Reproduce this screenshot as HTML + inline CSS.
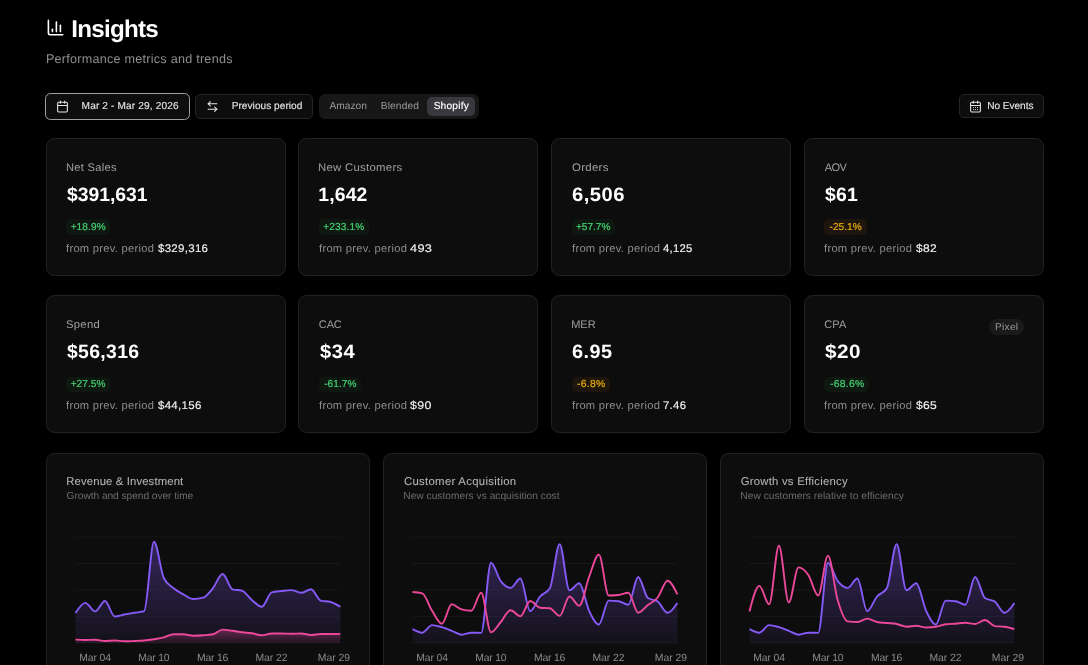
<!DOCTYPE html>
<html lang="en"><head><meta charset="utf-8"><title>Insights</title>
<style>
*{box-sizing:border-box;margin:0;padding:0}
html,body{width:1088px;height:665px;overflow:hidden;background:#000}
body{position:relative;font-family:"Liberation Sans",sans-serif;-webkit-font-smoothing:antialiased;text-rendering:geometricPrecision}
#app{position:absolute;left:0;top:0;width:1088px;height:665px;overflow:hidden;will-change:transform;background:#000}
.abs{position:absolute;display:block}
.t{position:absolute;white-space:pre;display:block}
.card{background:#0d0d0d;border:1px solid #222222;border-radius:8.5px}
.btn{background:#0d0d0d;border:1px solid #242424}
.bdg{position:absolute;border-radius:5px}
header,nav,section,article{display:block}
</style></head><body>
<div id="app">
<header>
<svg class="abs" style="left:45.7px;top:18.2px" width="19.2" height="19.2" viewBox="0 0 24 24" fill="none" stroke="#fff" stroke-width="2" stroke-linecap="round" stroke-linejoin="round"><path d="M3 3v16a2 2 0 0 0 2 2h16"/><path d="M18 17V9"/><path d="M13 17V5"/><path d="M8 17v-3"/></svg>
<span class="t" style="left:71.29px;top:18.01px;font-size:24.2px;line-height:24.2px;font-weight:bold;color:#fff;letter-spacing:-0.754px;">Insights</span>
<span class="t" style="left:45.90px;top:52.92px;font-size:12.6px;line-height:12.6px;font-weight:normal;color:#8e8e8e;letter-spacing:0.254px;">Performance metrics and trends</span>
</header>
<nav>
<div class="abs btn" style="left:45.4px;top:92.9px;width:144.6px;height:26.7px;border-color:#a0a0a0;border-radius:5.5px"></div>
<svg class="abs" style="left:55.95px;top:99.5px" width="13" height="13" viewBox="0 0 24 24" fill="none" stroke="#e6e6e6" stroke-width="2" stroke-linecap="round" stroke-linejoin="round"><path d="M8 2v4"/><path d="M16 2v4"/><rect width="18" height="18" x="3" y="4" rx="2"/><path d="M3 10h18"/></svg>
<span class="t" style="left:81.60px;top:102.01px;font-size:10.1px;line-height:10.1px;font-weight:normal;color:#e6e6e6;letter-spacing:0.143px;-webkit-text-stroke:0.12px #e6e6e6;">Mar 2 - Mar 29, 2026</span>
<div class="abs btn" style="left:195.4px;top:94.2px;width:117.4px;height:24.4px;border-radius:5px"></div>
<svg class="abs" style="left:205.65px;top:99.78px" width="13" height="13" viewBox="0 0 24 24" fill="none" stroke="#e6e6e6" stroke-width="2" stroke-linecap="round" stroke-linejoin="round"><path d="M8 3 4 7l4 4"/><path d="M4 7h16"/><path d="m16 21 4-4-4-4"/><path d="M20 17H4"/></svg>
<span class="t" style="left:231.70px;top:102.01px;font-size:10.1px;line-height:10.1px;font-weight:normal;color:#e6e6e6;letter-spacing:0.039px;-webkit-text-stroke:0.12px #e6e6e6;">Previous period</span>
<div class="abs" style="left:319.1px;top:94.3px;width:159.7px;height:24.3px;border-radius:6px;background:#171717"></div>
<span class="t" style="left:329.50px;top:102.01px;font-size:10.2px;line-height:10.2px;font-weight:normal;color:#9a9a9a;letter-spacing:0.001px;">Amazon</span>
<span class="t" style="left:380.70px;top:102.01px;font-size:10.2px;line-height:10.2px;font-weight:normal;color:#9a9a9a;letter-spacing:0.148px;">Blended</span>
<div class="abs" style="left:427px;top:97.1px;width:48px;height:18.7px;border-radius:5px;background:#38383f"></div>
<span class="t" style="left:433.65px;top:102.01px;font-size:10.2px;line-height:10.2px;font-weight:normal;color:#fff;letter-spacing:0.188px;-webkit-text-stroke:0.15px #fff;">Shopify</span>
<div class="abs btn" style="left:959.3px;top:94.3px;width:84.5px;height:24.1px;border-radius:5px"></div>
<svg class="abs" style="left:969.05px;top:99.92px;overflow:visible" width="13" height="13" viewBox="0 0 24 24" fill="none" stroke="#e6e6e6" stroke-width="2" stroke-linecap="round" stroke-linejoin="round"><path d="M8 2v4"/><path d="M16 2v4"/><rect width="18" height="18" x="3" y="4" rx="2"/><path d="M3 10h18"/></svg>
<svg class="abs" style="left:969px;top:100px" width="14" height="14" viewBox="969 100 14 14" fill="#e6e6e6"><circle cx="973.50" cy="107.50" r="0.58"/><circle cx="975.50" cy="107.50" r="0.58"/><circle cx="977.50" cy="107.50" r="0.58"/><circle cx="973.50" cy="109.60" r="0.58"/><circle cx="975.50" cy="109.60" r="0.58"/><circle cx="977.50" cy="109.60" r="0.58"/></svg>
<span class="t" style="left:987.20px;top:102.01px;font-size:10.1px;line-height:10.1px;font-weight:normal;color:#e6e6e6;letter-spacing:-0.031px;-webkit-text-stroke:0.12px #e6e6e6;">No Events</span>
</nav>
<section>
<article>
<div class="abs card" style="left:46px;top:138px;width:240px;height:138px"></div>
<span class="t" style="left:65.79px;top:162.91px;font-size:11px;line-height:11px;font-weight:normal;color:#a1a1a1;letter-spacing:0.275px;transform:scaleX(1.0115);transform-origin:0 0;">Net Sales</span>
<span class="t" style="left:66.90px;top:185.71px;font-size:19.4px;line-height:19.4px;font-weight:bold;color:#fff;letter-spacing:-0.019px;">$391,631</span>
<div class="bdg" style="left:66.2px;top:219.4px;width:43.5px;height:15.4px;background:#0e1811"></div>
<span class="t" style="left:70.65px;top:223.10px;font-size:10.1px;line-height:10.1px;font-weight:normal;color:#44cf71;letter-spacing:0.089px;-webkit-text-stroke:0.22px #44cf71;">+18.9%</span>
<span class="t" style="left:66.35px;top:243.71px;font-size:11px;line-height:11px;font-weight:normal;color:#8e8e8e;letter-spacing:0.275px;transform:scaleX(1.0150);transform-origin:0 0;">from prev. period</span>
<span class="t" style="left:157.70px;top:243.71px;font-size:11px;line-height:11px;font-weight:normal;color:#f2f2f2;letter-spacing:0.275px;-webkit-text-stroke:0.14px #f2f2f2;transform:scaleX(1.0458);transform-origin:0 0;">$329,316</span>
</article>
<article>
<div class="abs card" style="left:298px;top:138px;width:240px;height:138px"></div>
<span class="t" style="left:318.44px;top:162.91px;font-size:11px;line-height:11px;font-weight:normal;color:#a1a1a1;letter-spacing:0.275px;transform:scaleX(1.0329);transform-origin:0 0;">New Customers</span>
<span class="t" style="left:318.36px;top:185.71px;font-size:19.4px;line-height:19.4px;font-weight:bold;color:#fff;letter-spacing:0.120px;">1,642</span>
<div class="bdg" style="left:318.9px;top:219.4px;width:50.0px;height:15.4px;background:#0e1811"></div>
<span class="t" style="left:323.32px;top:223.10px;font-size:10.1px;line-height:10.1px;font-weight:normal;color:#44cf71;letter-spacing:0.110px;-webkit-text-stroke:0.22px #44cf71;">+233.1%</span>
<span class="t" style="left:319.02px;top:243.71px;font-size:11px;line-height:11px;font-weight:normal;color:#8e8e8e;letter-spacing:0.275px;transform:scaleX(1.0150);transform-origin:0 0;">from prev. period</span>
<span class="t" style="left:409.91px;top:243.71px;font-size:11px;line-height:11px;font-weight:normal;color:#f2f2f2;letter-spacing:0.275px;-webkit-text-stroke:0.14px #f2f2f2;transform:scaleX(1.1603);transform-origin:0 0;">493</span>
</article>
<article>
<div class="abs card" style="left:551px;top:138px;width:240px;height:138px"></div>
<span class="t" style="left:571.52px;top:162.91px;font-size:11px;line-height:11px;font-weight:normal;color:#a1a1a1;letter-spacing:0.275px;transform:scaleX(1.0386);transform-origin:0 0;">Orders</span>
<span class="t" style="left:571.61px;top:185.71px;font-size:19.4px;line-height:19.4px;font-weight:bold;color:#fff;letter-spacing:0.485px;transform:scaleX(1.0417);transform-origin:0 0;">6,506</span>
<div class="bdg" style="left:571.5px;top:219.4px;width:43.4px;height:15.4px;background:#0e1811"></div>
<span class="t" style="left:575.99px;top:223.10px;font-size:10.1px;line-height:10.1px;font-weight:normal;color:#44cf71;letter-spacing:-0.019px;-webkit-text-stroke:0.22px #44cf71;">+57.7%</span>
<span class="t" style="left:571.69px;top:243.71px;font-size:11px;line-height:11px;font-weight:normal;color:#8e8e8e;letter-spacing:0.275px;transform:scaleX(1.0150);transform-origin:0 0;">from prev. period</span>
<span class="t" style="left:662.64px;top:243.71px;font-size:11px;line-height:11px;font-weight:normal;color:#f2f2f2;letter-spacing:0.275px;-webkit-text-stroke:0.14px #f2f2f2;transform:scaleX(1.0229);transform-origin:0 0;">4,125</span>
</article>
<article>
<div class="abs card" style="left:804px;top:138px;width:240px;height:138px"></div>
<span class="t" style="left:824.71px;top:162.91px;font-size:11px;line-height:11px;font-weight:normal;color:#a1a1a1;letter-spacing:-0.502px;">AOV</span>
<span class="t" style="left:824.91px;top:185.71px;font-size:19.4px;line-height:19.4px;font-weight:bold;color:#fff;letter-spacing:0.253px;">$61</span>
<div class="bdg" style="left:824.2px;top:219.4px;width:42.7px;height:15.4px;background:#1e150c"></div>
<span class="t" style="left:829.51px;top:223.10px;font-size:10.1px;line-height:10.1px;font-weight:normal;color:#e8ad0c;letter-spacing:0.024px;-webkit-text-stroke:0.22px #e8ad0c;">-25.1%</span>
<span class="t" style="left:824.36px;top:243.71px;font-size:11px;line-height:11px;font-weight:normal;color:#8e8e8e;letter-spacing:0.275px;transform:scaleX(1.0150);transform-origin:0 0;">from prev. period</span>
<span class="t" style="left:916.29px;top:243.71px;font-size:11px;line-height:11px;font-weight:normal;color:#f2f2f2;letter-spacing:0.275px;-webkit-text-stroke:0.14px #f2f2f2;transform:scaleX(1.0883);transform-origin:0 0;">$82</span>
</article>
<article>
<div class="abs card" style="left:46px;top:295px;width:240px;height:138px"></div>
<span class="t" style="left:66.24px;top:320.11px;font-size:11px;line-height:11px;font-weight:normal;color:#a1a1a1;letter-spacing:0.275px;transform:scaleX(1.0255);transform-origin:0 0;">Spend</span>
<span class="t" style="left:66.90px;top:342.91px;font-size:19.4px;line-height:19.4px;font-weight:bold;color:#fff;letter-spacing:0.343px;">$56,316</span>
<div class="bdg" style="left:66.2px;top:376.6px;width:43.7px;height:15.4px;background:#0e1811"></div>
<span class="t" style="left:70.65px;top:380.30px;font-size:10.1px;line-height:10.1px;font-weight:normal;color:#44cf71;letter-spacing:0.049px;-webkit-text-stroke:0.22px #44cf71;">+27.5%</span>
<span class="t" style="left:66.35px;top:400.91px;font-size:11px;line-height:11px;font-weight:normal;color:#8e8e8e;letter-spacing:0.275px;transform:scaleX(1.0150);transform-origin:0 0;">from prev. period</span>
<span class="t" style="left:157.80px;top:400.91px;font-size:11px;line-height:11px;font-weight:normal;color:#f2f2f2;letter-spacing:0.275px;-webkit-text-stroke:0.14px #f2f2f2;transform:scaleX(1.0454);transform-origin:0 0;">$44,156</span>
</article>
<article>
<div class="abs card" style="left:298px;top:295px;width:240px;height:138px"></div>
<span class="t" style="left:318.82px;top:320.11px;font-size:11px;line-height:11px;font-weight:normal;color:#a1a1a1;letter-spacing:-0.125px;">CAC</span>
<span class="t" style="left:319.57px;top:342.91px;font-size:19.4px;line-height:19.4px;font-weight:bold;color:#fff;letter-spacing:0.485px;transform:scaleX(1.0379);transform-origin:0 0;">$34</span>
<div class="bdg" style="left:318.9px;top:376.6px;width:42.0px;height:15.4px;background:#0e1811"></div>
<span class="t" style="left:324.17px;top:380.30px;font-size:10.1px;line-height:10.1px;font-weight:normal;color:#44cf71;letter-spacing:0.052px;-webkit-text-stroke:0.22px #44cf71;">-61.7%</span>
<span class="t" style="left:319.02px;top:400.91px;font-size:11px;line-height:11px;font-weight:normal;color:#8e8e8e;letter-spacing:0.275px;transform:scaleX(1.0150);transform-origin:0 0;">from prev. period</span>
<span class="t" style="left:410.49px;top:400.91px;font-size:11px;line-height:11px;font-weight:normal;color:#f2f2f2;letter-spacing:0.275px;-webkit-text-stroke:0.14px #f2f2f2;transform:scaleX(1.1259);transform-origin:0 0;">$90</span>
</article>
<article>
<div class="abs card" style="left:551px;top:295px;width:240px;height:138px"></div>
<span class="t" style="left:571.14px;top:320.11px;font-size:11px;line-height:11px;font-weight:normal;color:#a1a1a1;letter-spacing:0.005px;">MER</span>
<span class="t" style="left:571.62px;top:342.91px;font-size:19.4px;line-height:19.4px;font-weight:bold;color:#fff;letter-spacing:0.485px;transform:scaleX(1.0246);transform-origin:0 0;">6.95</span>
<div class="bdg" style="left:571.5px;top:376.6px;width:38.5px;height:15.4px;background:#1e150c"></div>
<span class="t" style="left:576.83px;top:380.30px;font-size:10.1px;line-height:10.1px;font-weight:normal;color:#e8ad0c;letter-spacing:0.253px;-webkit-text-stroke:0.22px #e8ad0c;transform:scaleX(1.0299);transform-origin:0 0;">-6.8%</span>
<span class="t" style="left:571.69px;top:400.91px;font-size:11px;line-height:11px;font-weight:normal;color:#8e8e8e;letter-spacing:0.275px;transform:scaleX(1.0150);transform-origin:0 0;">from prev. period</span>
<span class="t" style="left:662.83px;top:400.91px;font-size:11px;line-height:11px;font-weight:normal;color:#f2f2f2;letter-spacing:0.275px;-webkit-text-stroke:0.14px #f2f2f2;transform:scaleX(1.0322);transform-origin:0 0;">7.46</span>
</article>
<article>
<div class="abs card" style="left:804px;top:295px;width:240px;height:138px"></div>
<span class="t" style="left:824.16px;top:320.11px;font-size:11px;line-height:11px;font-weight:normal;color:#a1a1a1;letter-spacing:0.213px;">CPA</span>
<span class="t" style="left:824.91px;top:342.91px;font-size:19.4px;line-height:19.4px;font-weight:bold;color:#fff;letter-spacing:0.485px;transform:scaleX(1.0688);transform-origin:0 0;">$20</span>
<div class="bdg" style="left:824.2px;top:376.6px;width:44.7px;height:15.4px;background:#0e1811"></div>
<span class="t" style="left:829.50px;top:380.30px;font-size:10.1px;line-height:10.1px;font-weight:normal;color:#44cf71;letter-spacing:0.253px;-webkit-text-stroke:0.22px #44cf71;transform:scaleX(1.0325);transform-origin:0 0;">-68.6%</span>
<span class="t" style="left:824.36px;top:400.91px;font-size:11px;line-height:11px;font-weight:normal;color:#8e8e8e;letter-spacing:0.275px;transform:scaleX(1.0150);transform-origin:0 0;">from prev. period</span>
<span class="t" style="left:916.29px;top:400.91px;font-size:11px;line-height:11px;font-weight:normal;color:#f2f2f2;letter-spacing:0.275px;-webkit-text-stroke:0.14px #f2f2f2;transform:scaleX(1.0987);transform-origin:0 0;">$65</span>
</article>
</section>
<section>
<article>
<div class="abs card" style="left:46px;top:453px;width:324px;height:240px"></div>
<span class="t" style="left:66.30px;top:477.12px;font-size:11.3px;line-height:11.3px;font-weight:normal;color:#b6b6b6;letter-spacing:0.138px;-webkit-text-stroke:0.07px #b6b6b6;">Revenue &amp; Investment</span>
<span class="t" style="left:66.60px;top:492.10px;font-size:10.2px;line-height:10.2px;font-weight:normal;color:#6b6b6b;letter-spacing:-0.052px;">Growth and spend over time</span>
<span class="t" style="left:79.15px;top:654.01px;font-size:10.4px;line-height:10.4px;font-weight:normal;color:#8a8a8a;letter-spacing:-0.087px;">Mar 04</span>
<span class="t" style="left:138.35px;top:654.01px;font-size:10.4px;line-height:10.4px;font-weight:normal;color:#8a8a8a;letter-spacing:-0.227px;">Mar 10</span>
<span class="t" style="left:197.05px;top:654.01px;font-size:10.4px;line-height:10.4px;font-weight:normal;color:#8a8a8a;letter-spacing:-0.217px;">Mar 16</span>
<span class="t" style="left:255.45px;top:654.01px;font-size:10.4px;line-height:10.4px;font-weight:normal;color:#8a8a8a;letter-spacing:-0.047px;">Mar 22</span>
<span class="t" style="left:317.75px;top:654.01px;font-size:10.4px;line-height:10.4px;font-weight:normal;color:#8a8a8a;letter-spacing:-0.027px;">Mar 29</span>
</article>
<article>
<div class="abs card" style="left:383px;top:453px;width:324px;height:240px"></div>
<span class="t" style="left:403.65px;top:477.12px;font-size:11.3px;line-height:11.3px;font-weight:normal;color:#b6b6b6;letter-spacing:0.283px;-webkit-text-stroke:0.07px #b6b6b6;transform:scaleX(1.0063);transform-origin:0 0;">Customer Acquisition</span>
<span class="t" style="left:403.30px;top:492.10px;font-size:10.2px;line-height:10.2px;font-weight:normal;color:#6b6b6b;letter-spacing:0.017px;">New customers vs acquisition cost</span>
<span class="t" style="left:416.15px;top:654.01px;font-size:10.4px;line-height:10.4px;font-weight:normal;color:#8a8a8a;letter-spacing:-0.087px;">Mar 04</span>
<span class="t" style="left:475.35px;top:654.01px;font-size:10.4px;line-height:10.4px;font-weight:normal;color:#8a8a8a;letter-spacing:-0.227px;">Mar 10</span>
<span class="t" style="left:534.05px;top:654.01px;font-size:10.4px;line-height:10.4px;font-weight:normal;color:#8a8a8a;letter-spacing:-0.217px;">Mar 16</span>
<span class="t" style="left:592.45px;top:654.01px;font-size:10.4px;line-height:10.4px;font-weight:normal;color:#8a8a8a;letter-spacing:-0.047px;">Mar 22</span>
<span class="t" style="left:654.75px;top:654.01px;font-size:10.4px;line-height:10.4px;font-weight:normal;color:#8a8a8a;letter-spacing:-0.027px;">Mar 29</span>
</article>
<article>
<div class="abs card" style="left:720px;top:453px;width:324px;height:240px"></div>
<span class="t" style="left:740.65px;top:477.12px;font-size:11.3px;line-height:11.3px;font-weight:normal;color:#b6b6b6;letter-spacing:0.253px;-webkit-text-stroke:0.07px #b6b6b6;">Growth vs Efficiency</span>
<span class="t" style="left:740.30px;top:492.10px;font-size:10.2px;line-height:10.2px;font-weight:normal;color:#6b6b6b;letter-spacing:0.037px;">New customers relative to efficiency</span>
<span class="t" style="left:753.15px;top:654.01px;font-size:10.4px;line-height:10.4px;font-weight:normal;color:#8a8a8a;letter-spacing:-0.087px;">Mar 04</span>
<span class="t" style="left:812.35px;top:654.01px;font-size:10.4px;line-height:10.4px;font-weight:normal;color:#8a8a8a;letter-spacing:-0.227px;">Mar 10</span>
<span class="t" style="left:871.05px;top:654.01px;font-size:10.4px;line-height:10.4px;font-weight:normal;color:#8a8a8a;letter-spacing:-0.217px;">Mar 16</span>
<span class="t" style="left:929.45px;top:654.01px;font-size:10.4px;line-height:10.4px;font-weight:normal;color:#8a8a8a;letter-spacing:-0.047px;">Mar 22</span>
<span class="t" style="left:991.75px;top:654.01px;font-size:10.4px;line-height:10.4px;font-weight:normal;color:#8a8a8a;letter-spacing:-0.027px;">Mar 29</span>
</article>
</section>
<svg class="abs" style="left:0;top:440px" width="1088" height="225" viewBox="0 440 1088 225">
<defs><linearGradient id="gp" x1="0" y1="0" x2="0" y2="1"><stop offset="0" stop-color="#855af6" stop-opacity="0.33"/><stop offset="1" stop-color="#855af6" stop-opacity="0.06"/></linearGradient><linearGradient id="gk" x1="0" y1="0" x2="0" y2="1"><stop offset="0" stop-color="#ec4899" stop-opacity="0.35"/><stop offset="1" stop-color="#ec4899" stop-opacity="0.06"/></linearGradient></defs>
<line x1="75.1" x2="340.4" y1="537.0" y2="537.0" stroke="#171717" stroke-width="1"/>
<line x1="75.1" x2="340.4" y1="563.5" y2="563.5" stroke="#171717" stroke-width="1"/>
<line x1="75.1" x2="340.4" y1="589.9" y2="589.9" stroke="#171717" stroke-width="1"/>
<line x1="75.1" x2="340.4" y1="616.4" y2="616.4" stroke="#171717" stroke-width="1"/>
<line x1="75.1" x2="340.4" y1="642.9" y2="642.9" stroke="#171717" stroke-width="1"/>
<path d="M75.50,613.00C78.77,607.95,82.04,602.90,85.31,602.90C88.58,602.90,91.85,611.40,95.12,611.40C98.39,611.40,101.66,601.00,104.93,601.00C108.20,601.00,111.47,616.50,114.74,616.50C118.01,616.50,121.28,615.12,124.55,614.50C127.82,613.88,131.09,613.35,134.36,612.80C137.63,612.25,140.90,612.27,144.17,611.20C147.44,610.13,150.71,541.70,153.98,541.70C157.25,541.70,160.52,571.13,163.79,578.00C167.06,584.87,170.33,585.57,173.60,588.30C176.87,591.03,180.14,592.62,183.41,594.40C186.68,596.18,189.95,599.00,193.22,599.00C196.49,599.00,199.76,598.57,203.03,597.70C206.30,596.83,209.57,592.25,212.84,588.30C216.11,584.35,219.38,574.00,222.65,574.00C225.92,574.00,229.19,588.30,232.46,589.30C235.73,590.30,239.00,589.80,242.27,590.80C245.54,591.80,248.81,597.55,252.08,600.20C255.35,602.85,258.62,606.70,261.89,606.70C265.16,606.70,268.43,593.33,271.70,592.40C274.97,591.47,278.24,591.38,281.51,591.00C284.78,590.62,288.05,590.10,291.32,590.10C294.59,590.10,297.86,592.80,301.13,592.80C304.40,592.80,307.67,589.30,310.94,589.30C314.21,589.30,317.48,599.67,320.75,600.60C324.02,601.53,327.29,601.07,330.56,602.00C333.83,602.93,337.10,604.82,340.37,606.70L340.37,643.00L75.50,643.00Z" fill="url(#gp)"/>
<path d="M75.50,613.00C78.77,607.95,82.04,602.90,85.31,602.90C88.58,602.90,91.85,611.40,95.12,611.40C98.39,611.40,101.66,601.00,104.93,601.00C108.20,601.00,111.47,616.50,114.74,616.50C118.01,616.50,121.28,615.12,124.55,614.50C127.82,613.88,131.09,613.35,134.36,612.80C137.63,612.25,140.90,612.27,144.17,611.20C147.44,610.13,150.71,541.70,153.98,541.70C157.25,541.70,160.52,571.13,163.79,578.00C167.06,584.87,170.33,585.57,173.60,588.30C176.87,591.03,180.14,592.62,183.41,594.40C186.68,596.18,189.95,599.00,193.22,599.00C196.49,599.00,199.76,598.57,203.03,597.70C206.30,596.83,209.57,592.25,212.84,588.30C216.11,584.35,219.38,574.00,222.65,574.00C225.92,574.00,229.19,588.30,232.46,589.30C235.73,590.30,239.00,589.80,242.27,590.80C245.54,591.80,248.81,597.55,252.08,600.20C255.35,602.85,258.62,606.70,261.89,606.70C265.16,606.70,268.43,593.33,271.70,592.40C274.97,591.47,278.24,591.38,281.51,591.00C284.78,590.62,288.05,590.10,291.32,590.10C294.59,590.10,297.86,592.80,301.13,592.80C304.40,592.80,307.67,589.30,310.94,589.30C314.21,589.30,317.48,599.67,320.75,600.60C324.02,601.53,327.29,601.07,330.56,602.00C333.83,602.93,337.10,604.82,340.37,606.70" fill="none" stroke="#855af6" stroke-width="1.9" stroke-linejoin="round"/>
<path d="M75.50,639.60C78.77,639.80,82.04,640.00,85.31,640.00C88.58,640.00,91.85,639.80,95.12,639.80C98.39,639.80,101.66,641.00,104.93,641.00C108.20,641.00,111.47,640.50,114.74,640.50C118.01,640.50,121.28,641.30,124.55,641.30C127.82,641.30,131.09,641.13,134.36,641.00C137.63,640.87,140.90,640.80,144.17,640.50C147.44,640.20,150.71,639.72,153.98,639.20C157.25,638.68,160.52,638.22,163.79,637.40C167.06,636.58,170.33,634.30,173.60,634.30C176.87,634.30,180.14,634.30,183.41,634.30C186.68,634.30,189.95,635.80,193.22,635.80C196.49,635.80,199.76,635.55,203.03,635.30C206.30,635.05,209.57,634.97,212.84,634.30C216.11,633.63,219.38,629.60,222.65,629.60C225.92,629.60,229.19,630.35,232.46,630.80C235.73,631.25,239.00,631.88,242.27,632.30C245.54,632.72,248.81,632.80,252.08,633.30C255.35,633.80,258.62,635.30,261.89,635.30C265.16,635.30,268.43,633.50,271.70,633.50C274.97,633.50,278.24,633.50,281.51,633.50C284.78,633.50,288.05,633.70,291.32,633.70C294.59,633.70,297.86,633.50,301.13,633.50C304.40,633.50,307.67,635.00,310.94,635.00C314.21,635.00,317.48,634.00,320.75,634.00C324.02,634.00,327.29,634.00,330.56,634.00C333.83,634.00,337.10,633.95,340.37,633.90L340.37,643.00L75.50,643.00Z" fill="url(#gk)"/>
<path d="M75.50,639.60C78.77,639.80,82.04,640.00,85.31,640.00C88.58,640.00,91.85,639.80,95.12,639.80C98.39,639.80,101.66,641.00,104.93,641.00C108.20,641.00,111.47,640.50,114.74,640.50C118.01,640.50,121.28,641.30,124.55,641.30C127.82,641.30,131.09,641.13,134.36,641.00C137.63,640.87,140.90,640.80,144.17,640.50C147.44,640.20,150.71,639.72,153.98,639.20C157.25,638.68,160.52,638.22,163.79,637.40C167.06,636.58,170.33,634.30,173.60,634.30C176.87,634.30,180.14,634.30,183.41,634.30C186.68,634.30,189.95,635.80,193.22,635.80C196.49,635.80,199.76,635.55,203.03,635.30C206.30,635.05,209.57,634.97,212.84,634.30C216.11,633.63,219.38,629.60,222.65,629.60C225.92,629.60,229.19,630.35,232.46,630.80C235.73,631.25,239.00,631.88,242.27,632.30C245.54,632.72,248.81,632.80,252.08,633.30C255.35,633.80,258.62,635.30,261.89,635.30C265.16,635.30,268.43,633.50,271.70,633.50C274.97,633.50,278.24,633.50,281.51,633.50C284.78,633.50,288.05,633.70,291.32,633.70C294.59,633.70,297.86,633.50,301.13,633.50C304.40,633.50,307.67,635.00,310.94,635.00C314.21,635.00,317.48,634.00,320.75,634.00C324.02,634.00,327.29,634.00,330.56,634.00C333.83,634.00,337.10,633.95,340.37,633.90" fill="none" stroke="#ec4899" stroke-width="1.9" stroke-linejoin="round"/>
<line x1="412.1" x2="677.4" y1="537.0" y2="537.0" stroke="#171717" stroke-width="1"/>
<line x1="412.1" x2="677.4" y1="563.5" y2="563.5" stroke="#171717" stroke-width="1"/>
<line x1="412.1" x2="677.4" y1="589.9" y2="589.9" stroke="#171717" stroke-width="1"/>
<line x1="412.1" x2="677.4" y1="616.4" y2="616.4" stroke="#171717" stroke-width="1"/>
<line x1="412.1" x2="677.4" y1="642.9" y2="642.9" stroke="#171717" stroke-width="1"/>
<path d="M412.50,629.20C415.77,630.95,419.04,632.70,422.31,632.70C425.58,632.70,428.85,625.10,432.12,625.10C435.39,625.10,438.66,626.25,441.93,627.20C445.20,628.15,448.47,629.55,451.74,630.80C455.01,632.05,458.28,634.70,461.55,634.70C464.82,634.70,468.09,632.70,471.36,632.70C474.63,632.70,477.90,632.90,481.17,632.90C484.44,632.90,487.71,562.70,490.98,562.70C494.25,562.70,497.52,576.90,500.79,581.10C504.06,585.30,507.33,587.90,510.60,587.90C513.87,587.90,517.14,578.50,520.41,578.50C523.68,578.50,526.95,611.20,530.22,611.20C533.49,611.20,536.76,600.32,540.03,596.50C543.30,592.68,546.57,593.77,549.84,588.30C553.11,582.83,556.38,544.30,559.65,544.30C562.92,544.30,566.19,590.30,569.46,590.30C572.73,590.30,576.00,583.20,579.27,583.20C582.54,583.20,585.81,603.92,589.08,610.80C592.35,617.68,595.62,624.50,598.89,624.50C602.16,624.50,605.43,600.60,608.70,600.60C611.97,600.60,615.24,600.80,618.51,601.20C621.78,601.60,625.05,604.70,628.32,604.70C631.59,604.70,634.86,577.00,638.13,577.00C641.40,577.00,644.67,595.77,647.94,598.10C651.21,600.43,654.48,599.27,657.75,601.60C661.02,603.93,664.29,612.80,667.56,612.80C670.83,612.80,674.10,607.90,677.37,603.00L677.37,643.00L412.50,643.00Z" fill="url(#gp)"/>
<path d="M412.50,629.20C415.77,630.95,419.04,632.70,422.31,632.70C425.58,632.70,428.85,625.10,432.12,625.10C435.39,625.10,438.66,626.25,441.93,627.20C445.20,628.15,448.47,629.55,451.74,630.80C455.01,632.05,458.28,634.70,461.55,634.70C464.82,634.70,468.09,632.70,471.36,632.70C474.63,632.70,477.90,632.90,481.17,632.90C484.44,632.90,487.71,562.70,490.98,562.70C494.25,562.70,497.52,576.90,500.79,581.10C504.06,585.30,507.33,587.90,510.60,587.90C513.87,587.90,517.14,578.50,520.41,578.50C523.68,578.50,526.95,611.20,530.22,611.20C533.49,611.20,536.76,600.32,540.03,596.50C543.30,592.68,546.57,593.77,549.84,588.30C553.11,582.83,556.38,544.30,559.65,544.30C562.92,544.30,566.19,590.30,569.46,590.30C572.73,590.30,576.00,583.20,579.27,583.20C582.54,583.20,585.81,603.92,589.08,610.80C592.35,617.68,595.62,624.50,598.89,624.50C602.16,624.50,605.43,600.60,608.70,600.60C611.97,600.60,615.24,600.80,618.51,601.20C621.78,601.60,625.05,604.70,628.32,604.70C631.59,604.70,634.86,577.00,638.13,577.00C641.40,577.00,644.67,595.77,647.94,598.10C651.21,600.43,654.48,599.27,657.75,601.60C661.02,603.93,664.29,612.80,667.56,612.80C670.83,612.80,674.10,607.90,677.37,603.00" fill="none" stroke="#855af6" stroke-width="1.9" stroke-linejoin="round"/>
<path d="M412.50,592.00C415.77,592.23,419.04,592.47,422.31,593.40C425.58,594.33,428.85,605.75,432.12,610.80C435.39,615.85,438.66,623.70,441.93,623.70C445.20,623.70,448.47,604.30,451.74,604.30C455.01,604.30,458.28,608.47,461.55,609.40C464.82,610.33,468.09,610.80,471.36,610.80C474.63,610.80,477.90,592.80,481.17,592.80C484.44,592.80,487.71,632.30,490.98,632.30C494.25,632.30,497.52,625.68,500.79,622.00C504.06,618.32,507.33,610.20,510.60,610.20C513.87,610.20,517.14,616.30,520.41,616.30C523.68,616.30,526.95,601.00,530.22,601.00C533.49,601.00,536.76,607.30,540.03,607.70C543.30,608.10,546.57,607.90,549.84,608.30C553.11,608.70,556.38,615.90,559.65,615.90C562.92,615.90,566.19,596.50,569.46,596.50C572.73,596.50,576.00,605.70,579.27,605.70C582.54,605.70,585.81,585.52,589.08,577.00C592.35,568.48,595.62,554.60,598.89,554.60C602.16,554.60,605.43,595.50,608.70,595.50C611.97,595.50,615.24,595.33,618.51,595.00C621.78,594.67,625.05,592.80,628.32,592.80C631.59,592.80,634.86,612.80,638.13,612.80C641.40,612.80,644.67,607.55,647.94,605.00C651.21,602.45,654.48,601.55,657.75,597.50C661.02,593.45,664.29,580.70,667.56,580.70C670.83,580.70,674.10,587.55,677.37,594.40" fill="none" stroke="#ec4899" stroke-width="1.9" stroke-linejoin="round"/>
<line x1="749.1" x2="1014.4" y1="537.0" y2="537.0" stroke="#171717" stroke-width="1"/>
<line x1="749.1" x2="1014.4" y1="563.5" y2="563.5" stroke="#171717" stroke-width="1"/>
<line x1="749.1" x2="1014.4" y1="589.9" y2="589.9" stroke="#171717" stroke-width="1"/>
<line x1="749.1" x2="1014.4" y1="616.4" y2="616.4" stroke="#171717" stroke-width="1"/>
<line x1="749.1" x2="1014.4" y1="642.9" y2="642.9" stroke="#171717" stroke-width="1"/>
<path d="M749.50,629.20C752.77,630.95,756.04,632.70,759.31,632.70C762.58,632.70,765.85,625.10,769.12,625.10C772.39,625.10,775.66,626.25,778.93,627.20C782.20,628.15,785.47,629.55,788.74,630.80C792.01,632.05,795.28,634.70,798.55,634.70C801.82,634.70,805.09,632.70,808.36,632.70C811.63,632.70,814.90,632.90,818.17,632.90C821.44,632.90,824.71,562.70,827.98,562.70C831.25,562.70,834.52,576.90,837.79,581.10C841.06,585.30,844.33,587.90,847.60,587.90C850.87,587.90,854.14,578.50,857.41,578.50C860.68,578.50,863.95,611.20,867.22,611.20C870.49,611.20,873.76,600.32,877.03,596.50C880.30,592.68,883.57,593.77,886.84,588.30C890.11,582.83,893.38,544.30,896.65,544.30C899.92,544.30,903.19,590.30,906.46,590.30C909.73,590.30,913.00,583.20,916.27,583.20C919.54,583.20,922.81,603.92,926.08,610.80C929.35,617.68,932.62,624.50,935.89,624.50C939.16,624.50,942.43,600.60,945.70,600.60C948.97,600.60,952.24,600.80,955.51,601.20C958.78,601.60,962.05,604.70,965.32,604.70C968.59,604.70,971.86,577.00,975.13,577.00C978.40,577.00,981.67,595.77,984.94,598.10C988.21,600.43,991.48,599.27,994.75,601.60C998.02,603.93,1001.29,612.80,1004.56,612.80C1007.83,612.80,1011.10,607.90,1014.37,603.00L1014.37,643.00L749.50,643.00Z" fill="url(#gp)"/>
<path d="M749.50,629.20C752.77,630.95,756.04,632.70,759.31,632.70C762.58,632.70,765.85,625.10,769.12,625.10C772.39,625.10,775.66,626.25,778.93,627.20C782.20,628.15,785.47,629.55,788.74,630.80C792.01,632.05,795.28,634.70,798.55,634.70C801.82,634.70,805.09,632.70,808.36,632.70C811.63,632.70,814.90,632.90,818.17,632.90C821.44,632.90,824.71,562.70,827.98,562.70C831.25,562.70,834.52,576.90,837.79,581.10C841.06,585.30,844.33,587.90,847.60,587.90C850.87,587.90,854.14,578.50,857.41,578.50C860.68,578.50,863.95,611.20,867.22,611.20C870.49,611.20,873.76,600.32,877.03,596.50C880.30,592.68,883.57,593.77,886.84,588.30C890.11,582.83,893.38,544.30,896.65,544.30C899.92,544.30,903.19,590.30,906.46,590.30C909.73,590.30,913.00,583.20,916.27,583.20C919.54,583.20,922.81,603.92,926.08,610.80C929.35,617.68,932.62,624.50,935.89,624.50C939.16,624.50,942.43,600.60,945.70,600.60C948.97,600.60,952.24,600.80,955.51,601.20C958.78,601.60,962.05,604.70,965.32,604.70C968.59,604.70,971.86,577.00,975.13,577.00C978.40,577.00,981.67,595.77,984.94,598.10C988.21,600.43,991.48,599.27,994.75,601.60C998.02,603.93,1001.29,612.80,1004.56,612.80C1007.83,612.80,1011.10,607.90,1014.37,603.00" fill="none" stroke="#855af6" stroke-width="1.9" stroke-linejoin="round"/>
<path d="M749.50,611.40C752.77,598.65,756.04,585.90,759.31,585.90C762.58,585.90,765.85,604.30,769.12,604.30C772.39,604.30,775.66,545.80,778.93,545.80C782.20,545.80,785.47,602.60,788.74,602.60C792.01,602.60,795.28,567.40,798.55,567.40C801.82,567.40,805.09,570.32,808.36,575.00C811.63,579.68,814.90,595.50,818.17,595.50C821.44,595.50,824.71,555.60,827.98,555.60C831.25,555.60,834.52,589.63,837.79,600.60C841.06,611.57,844.33,621.00,847.60,621.40C850.87,621.80,854.14,622.00,857.41,622.00C860.68,622.00,863.95,618.60,867.22,618.60C870.49,618.60,873.76,621.33,877.03,622.00C880.30,622.67,883.57,622.67,886.84,623.00C890.11,623.33,893.38,623.38,896.65,624.00C899.92,624.62,903.19,626.70,906.46,626.70C909.73,626.70,913.00,625.70,916.27,625.70C919.54,625.70,922.81,627.50,926.08,627.50C929.35,627.50,932.62,627.23,935.89,626.70C939.16,626.17,942.43,624.70,945.70,624.30C948.97,623.90,952.24,623.95,955.51,623.70C958.78,623.45,962.05,622.80,965.32,622.80C968.59,622.80,971.86,624.00,975.13,624.00C978.40,624.00,981.67,620.00,984.94,620.00C988.21,620.00,991.48,625.70,994.75,626.10C998.02,626.50,1001.29,626.30,1004.56,626.70C1007.83,627.10,1011.10,628.15,1014.37,629.20" fill="none" stroke="#ec4899" stroke-width="1.9" stroke-linejoin="round"/>
</svg>
<div class="abs" style="left:989px;top:318.8px;width:34.9px;height:16.1px;border-radius:8px;background:#1a1a1a"></div><span class="t" style="left:994.98px;top:322.90px;font-size:9.9px;line-height:9.9px;font-weight:normal;color:#9a9a9a;letter-spacing:0.248px;transform:scaleX(1.0286);transform-origin:0 0;">Pixel</span>
</div>
</body></html>
